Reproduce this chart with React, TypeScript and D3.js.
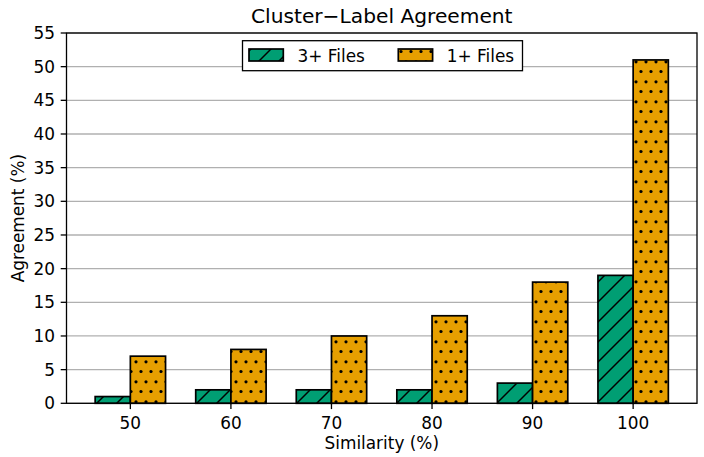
import React from 'react';
import * as d3 from 'd3';

const categories: string[] = ['50', '60', '70', '80', '90', '100'];
const files3: number[] = [1, 2, 2, 2, 3, 19];
const files1: number[] = [7, 8, 10, 13, 18, 51];
const yTicks: number[] = [0, 5, 10, 15, 20, 25, 30, 35, 40, 45, 50, 55];
const seriesNames: string[] = ['3+ Files', '1+ Files'];
const seriesColors: string[] = ['#009E73', '#E69F00'];
const title = 'Cluster\u2212Label Agreement';
const xLabel = 'Similarity (%)';
const yLabel = 'Agreement (%)';

const W = 704;
const H = 457;
const left = 66.5;
const right = 697;
const top = 33;
const bottom = 403.3;
const barW = 0.35;
const FONT = '"DejaVu Sans", sans-serif';

export default function App() {
  const x = d3.scaleLinear().domain([-0.635, categories.length - 1 + 0.635]).range([left, right]);
  const y = d3.scaleLinear().domain([0, 55]).range([bottom, top]);
  const series = [files3, files1];
  const patterns = ['hatchLines', 'hatchDots'];

  return (
    <svg width={W} height={H} style={{ position: 'absolute', left: 0, top: 0, background: '#fff' }} fontFamily={FONT}>
      <defs>
        <pattern id="hatchLines" patternUnits="userSpaceOnUse" x={0} y={0} width={20} height={20}>
          <rect width={20} height={20} fill={seriesColors[0]} />
          <path d="M-5,5 L5,-5 M0,20 L20,0 M15,25 L25,15" stroke="#000" strokeWidth={1.5} />
        </pattern>
        <pattern id="hatchDots" patternUnits="userSpaceOnUse" x={0} y={0} width={10} height={20}>
          <rect width={10} height={20} fill={seriesColors[1]} />
          <circle cx={1} cy={11.5} r={1.6} fill="#000" />
          <circle cx={11} cy={11.5} r={1.6} fill="#000" />
          <circle cx={6} cy={1.8} r={1.6} fill="#000" />
          <circle cx={6} cy={21.8} r={1.6} fill="#000" />
        </pattern>
      </defs>

      {yTicks.map((t) => (
        <line key={'g' + t} x1={left} x2={right} y1={y(t)} y2={y(t)} stroke="#b0b0b0" strokeWidth={1.3} />
      ))}

      {series.map((vals, si) =>
        vals.map((v, i) => {
          const x0 = si === 0 ? x(i - barW) : x(i);
          const x1 = si === 0 ? x(i) : x(i + barW);
          return (
            <rect
              key={si + '-' + i}
              x={x0}
              y={y(v)}
              width={x1 - x0}
              height={y(0) - y(v)}
              fill={`url(#${patterns[si]})`}
              stroke="#000"
              strokeWidth={1.7}
            />
          );
        })
      )}

      <rect x={left} y={top} width={right - left} height={bottom - top} fill="none" stroke="#000" strokeWidth={1.3} />

      {yTicks.map((t) => (
        <g key={'y' + t}>
          <line x1={left - 5.8} x2={left} y1={y(t)} y2={y(t)} stroke="#000" strokeWidth={1.3} />
          <text x={left - 11.5} y={y(t) + 6} textAnchor="end" fontSize={16.9} fill="#000">
            {t}
          </text>
        </g>
      ))}

      {categories.map((c, i) => (
        <g key={'x' + c}>
          <line x1={x(i)} x2={x(i)} y1={bottom} y2={bottom + 5.8} stroke="#000" strokeWidth={1.3} />
          <text x={x(i)} y={429} textAnchor="middle" fontSize={16.9} fill="#000">
            {c}
          </text>
        </g>
      ))}

      <text x={(left + right) / 2} y={449} textAnchor="middle" fontSize={16.9} fill="#000">
        {xLabel}
      </text>
      <text
        transform={`translate(23.5, ${(top + bottom) / 2}) rotate(-90)`}
        textAnchor="middle"
        fontSize={16.9}
        fill="#000"
      >
        {yLabel}
      </text>
      <text x={(left + right) / 2} y={23} textAnchor="middle" fontSize={20.2} fill="#000">
        {title}
      </text>

      <g>
        <rect x={242.5} y={40.7} width={280} height={30} fill="#fff" stroke="#000" strokeWidth={1.3} />
        {seriesNames.map((n, si) => {
          const px = si === 0 ? 249 : 398.3;
          return (
            <g key={'l' + si}>
              <rect x={px} y={49} width={34.3} height={12} fill={`url(#${patterns[si]})`} stroke="#000" strokeWidth={1.7} />
              <text x={px + 48.5} y={61.5} fontSize={16.9} fill="#000">
                {n}
              </text>
            </g>
          );
        })}
      </g>
    </svg>
  );
}
